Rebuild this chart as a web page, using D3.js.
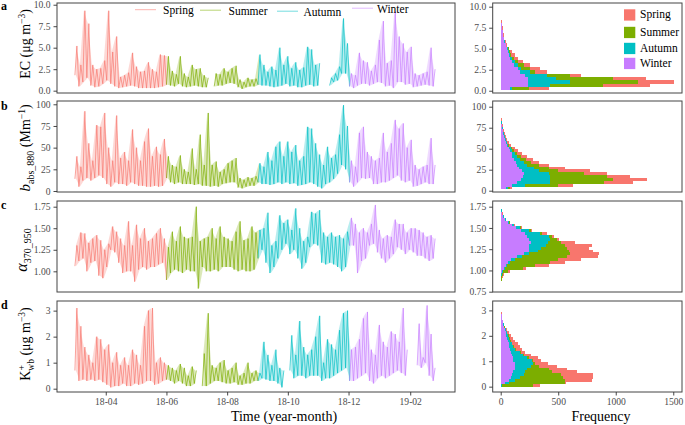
<!DOCTYPE html>
<html><head><meta charset="utf-8">
<script src="https://cdn.jsdelivr.net/npm/d3@7"></script>
<style>
body{margin:0;background:#fff}
svg{display:block}
text{font-family:"Liberation Serif","Times New Roman",Times,"DejaVu Serif",serif}
</style>
</head><body>
<svg id="c" width="685" height="425" font-family="Liberation Serif, Times New Roman, serif"></svg>
<script>
// ---------------- DATA ----------------
const seasons = ["Spring", "Summer", "Autumn", "Winter"];
const seriesStart = "2018-03-01";   // first sample, samples every 4 days (low, then high)
const stepDays = 4;
const seasonStartDay = [0, 92, 184, 275]; // day index where each season begins

const ecHigh = [5.2,3.0,9.3,7.8,3.0,2.5,2.6,3.5,9.3,4.5,6.3,1.6,1.8,2.1,4.4,2.8,2.2,2.3,3.3,2.5,2.2,4.2,4.1,
  4.0,2.3,1.9,4.0,2.0,1.6,3.0,2.5,2.6,1.8,1.5,null,2.0,1.9,2.6,2.2,2.6,2.9,1.3,1.0,1.5,1.3,1.4,
  4.2,3.0,2.2,2.8,2.4,5.0,3.0,4.0,2.6,3.3,2.4,2.7,5.1,4.8,3.0,3.2,null,null,1.5,2.0,2.8,8.4,5.5,
  2.0,1.8,4.4,3.5,3.3,2.3,3.0,5.9,8.1,3.2,3.5,9.2,6.3,5.5,4.5,5.1,2.0,1.8,2.0,2.2,5.0,2.5];
const ecLow = [1.8,0.5,1.0,1.5,0.6,0.4,0.5,0.8,1.2,0.8,0.5,0.3,0.4,0.5,0.6,0.5,0.3,0.3,0.3,0.3,0.3,0.4,0.5,
  0.7,0.6,0.5,0.8,0.5,0.4,0.5,0.6,0.5,0.4,0.4,null,0.5,0.6,0.6,0.8,0.9,0.8,0.4,0.2,0.4,0.5,0.5,
  0.7,0.6,0.6,0.5,0.4,0.5,0.6,0.8,0.5,0.6,0.4,0.4,0.6,0.7,0.5,0.6,null,null,0.6,1.0,1.2,2.0,2.0,
  0.5,0.3,0.6,0.8,0.8,0.6,0.8,1.0,0.9,0.5,0.6,0.3,1.0,1.0,0.7,0.8,0.4,0.5,0.6,0.7,0.6,0.5];

const babsHigh = [40,28,92,55,35,76,74,90,50,35,87,38,45,35,71,50,35,57,72,40,51,42,60,
  40,30,28,41,25,22,49,25,65,30,90,30,34,22,25,32,35,38,15,13,16,15,17,
  32,28,45,35,51,57,40,57,45,53,35,40,74,72,55,42,30,51,38,42,65,99,75,
  35,28,67,74,45,40,35,38,67,45,55,82,72,78,50,59,30,25,28,30,61,30];
const babsLow = [14,5,12,15,12,15,18,15,8,5,10,8,8,6,10,8,6,6,5,5,6,5,6,
  15,10,8,10,8,8,8,7,8,6,6,5,6,5,8,9,10,10,4,3,5,6,6,
  10,8,8,7,8,10,8,10,8,9,6,7,8,10,8,5,3,8,10,14,20,30,25,
  10,5,10,15,14,15,8,8,10,10,12,15,18,12,10,12,5,6,8,10,8,8];

const alphaHigh = [1.30,1.45,1.44,1.33,1.38,1.42,1.36,1.25,1.32,1.52,1.46,1.38,1.30,1.58,1.30,1.54,1.38,1.50,1.35,1.38,1.44,1.50,1.38,
  1.28,1.46,1.35,1.52,1.40,1.38,1.40,1.75,1.35,1.38,1.40,1.50,1.38,1.52,1.40,1.38,1.35,1.46,1.58,1.36,1.38,1.52,1.45,
  1.48,1.50,1.68,1.30,1.35,1.65,1.56,1.60,1.48,1.73,1.50,1.35,1.40,1.69,1.67,1.71,1.45,1.40,1.45,1.40,1.42,1.38,1.46,
  1.62,1.55,1.45,1.50,1.45,1.55,1.77,1.48,1.38,1.42,1.40,1.60,1.55,1.55,1.45,1.50,1.50,1.48,1.45,1.40,1.42,1.38];
const alphaLow = [1.06,1.12,1.15,1.00,1.10,1.12,0.95,0.92,1.05,1.25,1.22,1.10,0.98,1.00,1.00,0.88,1.02,1.05,1.02,1.05,1.05,1.08,1.10,
  0.90,0.98,1.02,1.00,0.98,1.02,1.00,1.00,0.80,1.05,1.00,1.00,1.02,1.00,1.05,1.05,1.05,1.02,1.00,1.02,1.00,1.00,1.02,
  1.15,1.25,1.10,0.98,1.05,1.15,1.25,1.32,1.20,1.25,1.15,1.03,1.10,1.28,1.32,1.30,1.10,1.08,1.10,1.08,1.05,1.00,1.05,
  1.30,1.30,0.98,1.12,1.15,1.30,1.32,1.22,1.15,1.10,1.15,1.20,1.28,1.25,1.20,1.25,1.22,1.18,1.18,1.15,1.12,1.15];

const kHigh = [3.1,2.4,1.6,1.3,1.0,2.0,1.9,1.5,1.7,1.0,1.4,0.9,1.2,0.9,1.5,1.3,0.9,2.4,3.0,3.1,1.0,1.2,1.0,
  0.9,0.8,0.7,0.95,0.8,0.5,0.85,0.7,null,1.35,2.9,0.9,0.8,1.0,1.1,0.7,0.8,1.0,0.5,0.6,1.0,0.6,0.7,
  0.6,1.8,1.3,0.9,1.5,0.8,0.7,null,2.05,1.3,2.6,1.6,1.3,1.5,2.0,2.8,1.0,1.9,1.7,1.5,2.25,2.9,3.0,
  1.5,1.6,1.9,2.7,2.95,1.5,1.3,2.45,1.8,1.6,2.2,2.1,1.8,3.1,1.5,null,null,2.5,1.2,3.2,2.1,0.8];
const kLow = [0.7,0.3,0.35,0.3,0.35,0.3,0.35,0.25,0.15,0.05,0.1,0.1,0.2,0.1,0.1,0.2,0.15,0.2,0.3,0.3,0.15,0.2,0.3,
  0.35,0.3,0.2,0.3,0.2,0.1,0.1,0.2,null,0.1,0.1,0.2,0.3,0.3,0.25,0.2,0.2,0.25,0.15,0.15,0.2,0.2,0.3,
  0.3,0.4,0.35,0.3,0.3,0.2,0.05,null,0.7,0.4,0.5,0.5,0.4,0.5,0.5,0.5,0.3,0.4,0.4,0.5,0.6,0.7,0.8,
  0.3,0.3,0.4,0.5,0.6,0.3,0.2,0.4,0.5,0.4,0.5,0.6,0.7,0.6,0.5,null,null,0.9,0.8,1.0,0.5,0.3];

// histogram counts per season (bin lower edge = start + i*width)
const ecBins = {start: 0.05, width: 0.4};
const ecHistWinter = [80,240,240,235,210,170,150,115,95,80,70,62,55,42,32,25,20,16,12,9,5,3,1,0,0];
const ecHistAutumn = [15,190,360,245,190,85,30,35,30,20,12,10,10,6,4,3,2,1,1,0,0,0,0,0,0];
const ecHistSummer = [150,460,590,500,200,45,75,50,25,15,8,6,3,2,2,1,0,0,0,0,0,0,0,0,0];
const ecHistSpring = [175,410,315,285,100,100,85,55,40,35,30,17,7,6,4,3,3,3,3,3,3,3,3,3,2];

const babsBins = {start: 1.5, width: 3.4};
const babsHistWinter = [50,96,140,180,195,200,185,160,145,130,115,100,95,85,75,55,45,36,30,24,18,13,9,6,4,2,1,0];
const babsHistAutumn = [10,115,290,250,235,220,145,130,85,70,55,40,25,15,15,10,7,6,4,3,3,3,2,2,1,1,0,0];
const babsHistSummer = [20,289,470,550,490,300,170,130,100,60,50,35,25,15,10,7,6,4,2,2,1,1,1,0,0,0,1,0];
const babsHistSpring = [20,130,250,290,200,200,280,140,90,70,60,55,40,35,25,18,14,12,9,7,6,5,4,3,3,2,1,2];

const alphaBins = {start: 0.77, width: 0.034};
const alphaHistWinter = [0,0,0,1,3,6,14,28,45,65,90,140,200,250,245,250,265,245,230,210,180,130,95,60,35,20,10,5,2,1];
const alphaHistAutumn = [0,0,1,2,3,4,4,8,13,17,35,45,45,70,105,140,150,185,190,135,70,40,20,15,10,6,4,2,1,0];
const alphaHistSummer = [1,2,3,5,8,12,47,154,242,348,375,390,355,270,230,170,105,60,25,15,10,5,3,2,1,1,0,0,0,0];
const alphaHistSpring = [1,1,2,2,4,8,15,30,120,130,200,275,255,210,190,230,130,20,15,40,10,10,7,5,4,3,2,1,1,0];

const kBins = {start: -0.02, width: 0.11};
const kHistWinter = [5,35,70,90,100,110,120,125,120,110,105,100,90,82,75,68,62,55,50,42,36,28,22,16,11,7,5,3,2,1];
const kHistAutumn = [5,40,50,80,100,105,110,135,165,160,125,90,75,38,35,27,23,20,15,10,6,4,3,2,1,1,0,0,0,0];
const kHistSummer = [270,485,440,370,320,235,190,70,15,15,15,15,10,10,5,5,5,3,3,3,2,1,0,0,0,0,0,0,0,0];
const kHistSpring = [60,10,230,260,280,210,160,160,110,65,75,55,40,55,50,50,35,32,22,15,11,7,5,4,3,2,2,1,1,0];

// ticks
const timeTicks = ["2018-04-01","2018-06-01","2018-08-01","2018-10-01","2018-12-01","2019-02-01"];
const freqTicks = [0, 500, 1000, 1500];
const ecTicks = [0, 2.5, 5, 7.5, 10];
const babsTicks = [0, 25, 50, 75, 100];
const alphaTicksLeft = [1.00, 1.25, 1.50, 1.75];
const alphaTicksRight = [0.75, 1.00, 1.25, 1.50, 1.75];
const kTicks = [0, 1, 2, 3];

// ---------------- STYLE / LAYOUT ----------------
const FONT = '"Liberation Serif","Times New Roman",Times,"DejaVu Serif",serif';
const colors = {Spring: "#F8766D", Summer: "#7CAE00", Autumn: "#00BFC4", Winter: "#C77CFF"};
const svg = d3.select("#c");
const DAY = 86400000;
const t0 = Date.parse(seriesStart + "T00:00:00Z");
const L = [57, 455], R = [492.7, 682];
const rows = [[3, 93], [101, 192], [201, 292], [301, 392]];

const xt = d3.scaleUtc().domain([Date.UTC(2018,1,11), Date.UTC(2019,2,18)]).range(L);
const xh = d3.scaleLinear().domain([-69.6, 1576]).range(R);

const panels = [
  {hi: ecHigh, lo: ecLow, yl: [-0.27, 10.2], yr: [-0.27, 10.44], tl: ecTicks, tr: ecTicks, fmt: d3.format(".1f"),
   bins: ecBins, h: {Winter: ecHistWinter, Autumn: ecHistAutumn, Summer: ecHistSummer, Spring: ecHistSpring}},
  {hi: babsHigh, lo: babsLow, yl: [-1.15, 103.8], yr: [-1.55, 106.8], tl: babsTicks, tr: babsTicks, fmt: d3.format("d"),
   bins: babsBins, h: {Winter: babsHistWinter, Autumn: babsHistAutumn, Summer: babsHistSummer, Spring: babsHistSpring}},
  {hi: alphaHigh, lo: alphaLow, yl: [0.76, 1.816], yr: [0.7465, 1.817], tl: alphaTicksLeft, tr: alphaTicksRight, fmt: d3.format(".2f"),
   bins: alphaBins, h: {Winter: alphaHistWinter, Autumn: alphaHistAutumn, Summer: alphaHistSummer, Spring: alphaHistSpring}},
  {hi: kHigh, lo: kLow, yl: [-0.127, 3.37], yr: [-0.21, 3.37], tl: kTicks, tr: kTicks, fmt: d3.format("d"),
   bins: kBins, h: {Winter: kHistWinter, Autumn: kHistAutumn, Summer: kHistSummer, Spring: kHistSpring}}
];

const defs = svg.append("defs");
function seasonOf(day){ let s = 0; seasonStartDay.forEach((d,i)=>{ if(day >= d) s = i; }); return s; }

function styleAxis(g){
  g.select(".domain").remove();
  g.attr("font-family", FONT).attr("font-size", 9.6);
  g.selectAll(".tick line").attr("stroke", "#333").attr("stroke-width", 0.9);
  g.selectAll(".tick text").attr("fill", "#4d4d4d").attr("font-size", 9.6).style("font-family", FONT);
}

panels.forEach((p, i) => {
  const [top, bot] = rows[i];
  const yl = d3.scaleLinear().domain(p.yl).range([bot, top]);
  const yr = d3.scaleLinear().domain(p.yr).range([bot, top]);

  defs.append("clipPath").attr("id", "cl" + i).append("rect")
    .attr("x", L[0]).attr("y", top).attr("width", L[1] - L[0]).attr("height", bot - top);
  defs.append("clipPath").attr("id", "cr" + i).append("rect")
    .attr("x", R[0]).attr("y", top).attr("width", R[1] - R[0]).attr("height", bot - top);

  // --- time series: low/high samples drawn as a light band plus a zigzag line ---
  const pts = [];
  const bandPts = [];
  p.hi.forEach((h, k) => {
    pts.push({day: stepDays * k, v: p.lo[k]});
    pts.push({day: stepDays * k + stepDays / 2, v: h});
    bandPts.push({day: stepDays * k + stepDays / 4, lo: p.lo[k], hi: h});
  });
  const X = d => xt(new Date(t0 + d.day * DAY));
  const line = d3.line().defined(d => d.v != null).x(X).y(d => yl(d.v));
  const area = d3.area().defined(d => d.hi != null && d.lo != null).x(X)
    .y0(d => yl(d.lo)).y1(d => yl(d.hi));
  const gl = svg.append("g").attr("clip-path", `url(#cl${i})`);
  seasons.forEach((s, si) => {
    const idx = pts.map((d, j) => seasonOf(d.day) === si ? j : -1).filter(j => j >= 0);
    const seg = pts.slice(idx[0], Math.min(idx[idx.length - 1] + 2, pts.length));
    const bidx = bandPts.map((d, j) => seasonOf(d.day) === si ? j : -1).filter(j => j >= 0);
    const bseg = bandPts.slice(bidx[0], Math.min(bidx[bidx.length - 1] + 2, bandPts.length));
    gl.append("path").datum(bseg).attr("d", area)
      .attr("fill", colors[s]).attr("fill-opacity", 0.28);
    gl.append("path").datum(seg).attr("d", line)
      .attr("fill", "none").attr("stroke", colors[s]).attr("stroke-width", 0.8)
      .attr("stroke-opacity", 0.85).attr("stroke-linejoin", "round");
  });

  // --- histogram ---
  const n = p.h.Winter.length;
  const table = d3.range(n).map(j => ({
    y0: p.bins.start + j * p.bins.width, y1: p.bins.start + (j + 1) * p.bins.width,
    Winter: p.h.Winter[j], Autumn: p.h.Autumn[j], Summer: p.h.Summer[j], Spring: p.h.Spring[j]
  }));
  const stack = d3.stack().keys(["Winter", "Autumn", "Summer", "Spring"])(table);
  const gh = svg.append("g").attr("clip-path", `url(#cr${i})`);
  stack.forEach(layer => {
    gh.append("g").attr("fill", colors[layer.key]).selectAll("rect")
      .data(layer.filter(d => d[1] > d[0])).join("rect")
      .attr("x", d => xh(d[0])).attr("width", d => xh(d[1]) - xh(d[0]))
      .attr("y", d => yr(d.data.y1)).attr("height", d => yr(d.data.y0) - yr(d.data.y1))
      .attr("shape-rendering", "crispEdges");
  });

  // --- borders ---
  [L, R].forEach(Xr => {
    svg.append("rect").attr("x", Xr[0]).attr("y", top).attr("width", Xr[1] - Xr[0]).attr("height", bot - top)
      .attr("fill", "none").attr("stroke", "#444").attr("stroke-width", 1);
  });

  // --- y axes ---
  svg.append("g").attr("transform", `translate(${L[0]},0)`)
    .call(d3.axisLeft(yl).tickValues(p.tl).tickFormat(p.fmt).tickSize(3.5).tickPadding(3)).call(styleAxis);
  svg.append("g").attr("transform", `translate(${R[0]},0)`)
    .call(d3.axisLeft(yr).tickValues(p.tr).tickFormat(p.fmt).tickSize(3.5).tickPadding(3)).call(styleAxis);
});

// x axes
svg.append("g").attr("transform", `translate(0,${rows[3][1]})`)
  .call(d3.axisBottom(xt).tickValues(timeTicks.map(s => new Date(s + "T00:00:00Z")))
    .tickFormat(d3.utcFormat("%y-%m")).tickSize(3.5).tickPadding(2.5)).call(styleAxis);
svg.append("g").attr("transform", `translate(0,${rows[3][1]})`)
  .call(d3.axisBottom(xh).tickValues(freqTicks).tickFormat(d3.format("d")).tickSize(3.5).tickPadding(2.5)).call(styleAxis);

// axis titles
svg.append("text").attr("x", 284).attr("y", 421).attr("text-anchor", "middle")
  .attr("font-size", 14).style("font-family", FONT).text("Time (year-month)");
svg.append("text").attr("x", 601).attr("y", 421).attr("text-anchor", "middle")
  .attr("font-size", 14).style("font-family", FONT).text("Frequency");

// y titles
function ytitle(x, y, parts){
  const t = svg.append("text").attr("transform", `translate(${x},${y}) rotate(-90)`)
    .attr("text-anchor", "middle").attr("font-size", 14).style("font-family", FONT);
  parts.forEach(pt => {
    const s = t.append("tspan").text(pt.t);
    if (pt.dy) s.attr("dy", pt.dy);
    if (pt.dx) s.attr("dx", pt.dx);
    if (pt.fs) s.attr("font-size", pt.fs);
    if (pt.it) s.attr("font-style", "italic");
  });
}
ytitle(30, 44, [{t: "EC (μg m"}, {t: "−3", dy: -5, fs: 9.5}, {t: ")", dy: 5}]);
ytitle(30, 148, [{t: "b", it: 1, fs: 15}, {t: "abs_880", dy: 4, fs: 10}, {t: " (Mm", dy: -4}, {t: "−1", dy: -5, fs: 9.5}, {t: ")", dy: 5}]);
ytitle(27, 250, [{t: "α", it: 1, fs: 16}, {t: "370_950", dy: 4, fs: 10}]);
ytitle(30, 344, [{t: "K"}, {t: "+", dy: -5, fs: 9.5}, {t: "wb", dx: -5.5, dy: 9, fs: 9.5}, {t: " (μg m", dy: -4}, {t: "−3", dy: -5, fs: 9.5}, {t: ")", dy: 5}]);

// panel letters
["a", "b", "c", "d"].forEach((l, i) => {
  svg.append("text").attr("x", 1).attr("y", [9.5, 110, 208.5, 308.5][i])
    .attr("font-size", 12).attr("font-weight", "bold").style("font-family", FONT).text(l);
});

// left legend (lines)
const legL = [{x: 135, tx: 163, ty: 14}, {x: 200, tx: 228.5, ty: 14.5}, {x: 277, tx: 303.5, ty: 15.5}, {x: 352, tx: 377, ty: 12.5}];
seasons.forEach((s, i) => {
  const g = legL[i];
  svg.append("line").attr("x1", g.x).attr("x2", g.x + 21).attr("y1", g.ty - 4.3).attr("y2", g.ty - 4.3)
    .attr("stroke", colors[s]).attr("stroke-opacity", 0.55).attr("stroke-width", 1);
  svg.append("text").attr("x", g.tx).attr("y", g.ty).attr("font-size", 11.5).style("font-family", FONT).text(s);
});

// right legend (squares)
seasons.forEach((s, i) => {
  const y = [18, 35.5, 51.5, 66.5][i];
  svg.append("rect").attr("x", 624).attr("y", y - 8.7).attr("width", 11.3).attr("height", 11.3).attr("fill", colors[s]);
  svg.append("text").attr("x", 640).attr("y", y).attr("font-size", 11.5).style("font-family", FONT).text(s);
});
</script>
</body></html>
